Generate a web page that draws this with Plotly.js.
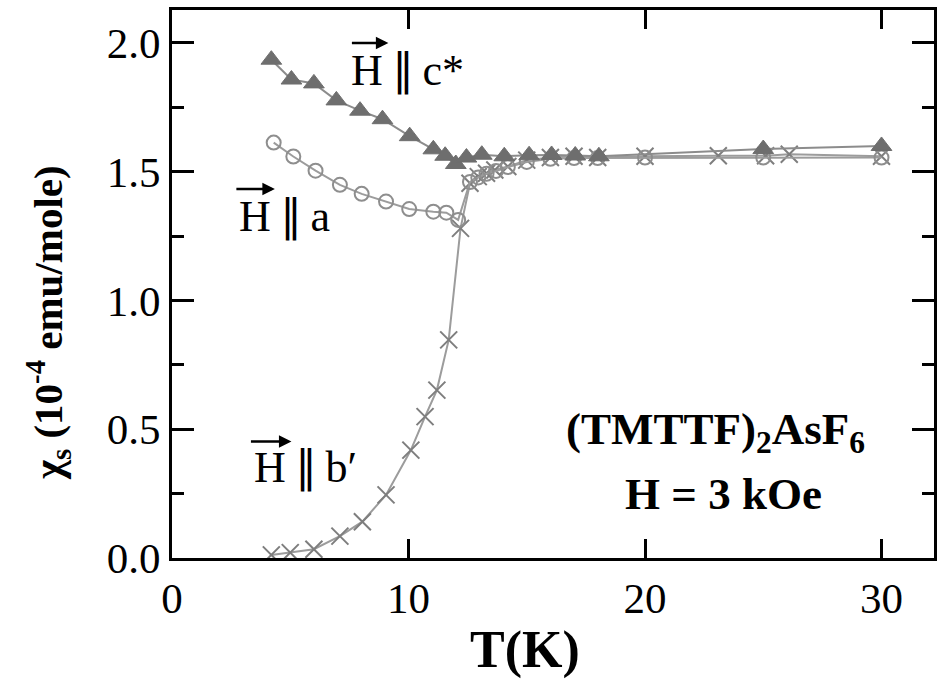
<!DOCTYPE html>
<html>
<head>
<meta charset="utf-8">
<script src="https://cdn.plot.ly/plotly-3.0.1.min.js"></script>
<style>html,body{margin:0;padding:0;background:#fff;}#chart{width:937px;height:688px;}</style>
</head>
<body>
<div id="chart"></div>
<script>
// H || c*  (filled triangles)
var T_c   = [4.2, 5.05, 6.0, 6.95, 7.95, 8.9, 10.05, 11.05, 11.55, 12.0, 12.45, 13.1, 14.05, 15.1, 16.05, 17.05, 18.05, 25.0, 30.0];
var chi_c = [1.935, 1.858, 1.843, 1.777, 1.737, 1.704, 1.638, 1.587, 1.562, 1.530, 1.555, 1.566, 1.560, 1.564, 1.565, 1.563, 1.560, 1.588, 1.600];
// H || a  (open circles)
var T_a   = [4.3, 5.13, 6.07, 7.1, 8.02, 9.05, 10.03, 11.05, 11.6, 12.1, 12.6, 12.95, 13.3, 13.7, 14.2, 15.0, 16.0, 17.0, 18.0, 20.0, 25.0, 30.0];
var chi_a = [1.613, 1.559, 1.504, 1.449, 1.414, 1.384, 1.355, 1.345, 1.341, 1.313, 1.46, 1.478, 1.492, 1.503, 1.518, 1.538, 1.55, 1.553, 1.553, 1.555, 1.555, 1.555];
// H || b'  (crosses)
var T_b   = [4.2, 5.0, 6.0, 7.1, 8.05, 9.05, 10.1, 10.7, 11.2, 11.7, 12.2, 12.6, 12.95, 13.3, 13.65, 14.2, 15.0, 16.0, 17.0, 18.0, 20.0, 23.1, 25.1, 26.1, 30.0];
var chi_b = [0.012, 0.021, 0.034, 0.085, 0.141, 0.245, 0.419, 0.549, 0.652, 0.847, 1.28, 1.455, 1.481, 1.494, 1.507, 1.52, 1.545, 1.555, 1.56, 1.555, 1.56, 1.562, 1.562, 1.568, 1.56];

var xTicks = [0, 10, 20, 30];
var yTicks = [0, 0.5, 1.0, 1.5, 2.0];
var yTickText = ['0.0', '0.5', '1.0', '1.5', '2.0'];

var serif = 'Liberation Serif, Times New Roman, serif';

var traces = [
  {x: T_b, y: chi_b, mode: 'lines+markers', type: 'scatter',
   line: {color: '#9c9c9c', width: 2},
   marker: {symbol: 'x-thin', size: 17, line: {color: '#7e7e7e', width: 2}, color: '#7e7e7e'}},
  {x: T_a, y: chi_a, mode: 'lines+markers', type: 'scatter',
   line: {color: '#9c9c9c', width: 2},
   marker: {symbol: 'circle-open', size: 14, line: {color: '#8e8e8e', width: 2}, color: '#8e8e8e'}},
  {x: T_c, y: chi_c, mode: 'lines+markers', type: 'scatter',
   line: {color: '#8c8c8c', width: 2},
   marker: {symbol: 'triangle-up', size: 18, color: '#6e6e6e', line: {color: '#6e6e6e', width: 1}}}
];

var layout = {
  width: 937, height: 688,
  margin: {l: 172, r: 3, t: 10, b: 130},
  paper_bgcolor: '#fff', plot_bgcolor: '#fff',
  showlegend: false,
  font: {family: serif, color: '#000'},
  xaxis: {
    range: [0, 32.22], tickvals: xTicks, ticktext: xTicks.map(String),
    ticks: 'inside', ticklen: 19, tickwidth: 3, tickcolor: '#000',
    showline: true, linecolor: '#000', linewidth: 3, mirror: 'ticks',
    showgrid: false, zeroline: false,
    tickfont: {family: serif, size: 43, color: '#000'}
  },
  yaxis: {
    range: [0, 2.128], tickvals: yTicks, ticktext: yTickText,
    ticks: 'inside', ticklen: 22, tickwidth: 3, tickcolor: '#000',
    minor: {dtick: 0.25, tick0: 0, ticks: 'inside', ticklen: 12, tickwidth: 3, tickcolor: '#000'},
    showline: true, linecolor: '#000', linewidth: 3, mirror: 'ticks',
    showgrid: false, zeroline: false,
    tickfont: {family: serif, size: 43, color: '#000'}
  },
  annotations: [
    // axis titles
    {xref: 'paper', yref: 'paper', x: 0.463, y: -0.168, xanchor: 'center', yanchor: 'middle', showarrow: false,
     text: '<b>T(K)</b>', font: {family: serif, size: 52, color: '#000'}},
    {xref: 'paper', yref: 'paper', x: -0.162, y: 0.43, xanchor: 'center', yanchor: 'middle', showarrow: false,
     textangle: -90, text: '<b>χ<sub>s</sub> (10<sup>-4</sup> emu/mole)</b>', font: {family: serif, size: 41, color: '#000'}},
    // direction labels
    {xref: 'x', yref: 'y', x: 7.5, y: 1.895, xanchor: 'left', yanchor: 'middle', showarrow: false,
     text: 'H\u2009∥\u2009c*', font: {family: serif, size: 44, color: '#000'}},
    {xref: 'x', yref: 'y', x: 2.75, y: 1.328, xanchor: 'left', yanchor: 'middle', showarrow: false,
     text: 'H\u2009∥\u2009a', font: {family: serif, size: 44, color: '#000'}},
    {xref: 'x', yref: 'y', x: 3.4, y: 0.35, xanchor: 'left', yanchor: 'middle', showarrow: false,
     text: 'H\u2009∥\u2009b′', font: {family: serif, size: 44, color: '#000'}},
    // arrows over H
    {xref: 'x', yref: 'y', x: 9.15, y: 2.0, ax: -38, ay: 0, text: '', showarrow: true,
     arrowhead: 2, arrowsize: 1, arrowwidth: 2.5, arrowcolor: '#000'},
    {xref: 'x', yref: 'y', x: 4.35, y: 1.433, ax: -40, ay: 0, text: '', showarrow: true,
     arrowhead: 2, arrowsize: 1, arrowwidth: 2.5, arrowcolor: '#000'},
    {xref: 'x', yref: 'y', x: 5.05, y: 0.452, ax: -42, ay: 0, text: '', showarrow: true,
     arrowhead: 2, arrowsize: 1, arrowwidth: 2.5, arrowcolor: '#000'},
    // sample and field
    {xref: 'x', yref: 'y', x: 23.0, y: 0.49, xanchor: 'center', yanchor: 'middle', showarrow: false,
     text: '<b>(TMTTF)<sub>2</sub>AsF<sub>6</sub></b>', font: {family: serif, size: 45, color: '#000'}},
    {xref: 'x', yref: 'y', x: 23.3, y: 0.25, xanchor: 'center', yanchor: 'middle', showarrow: false,
     text: '<b>H = 3 kOe</b>', font: {family: serif, size: 45, color: '#000'}}
  ]
};

Plotly.newPlot('chart', traces, layout, {displayModeBar: false, staticPlot: true});
</script>
</body>
</html>
